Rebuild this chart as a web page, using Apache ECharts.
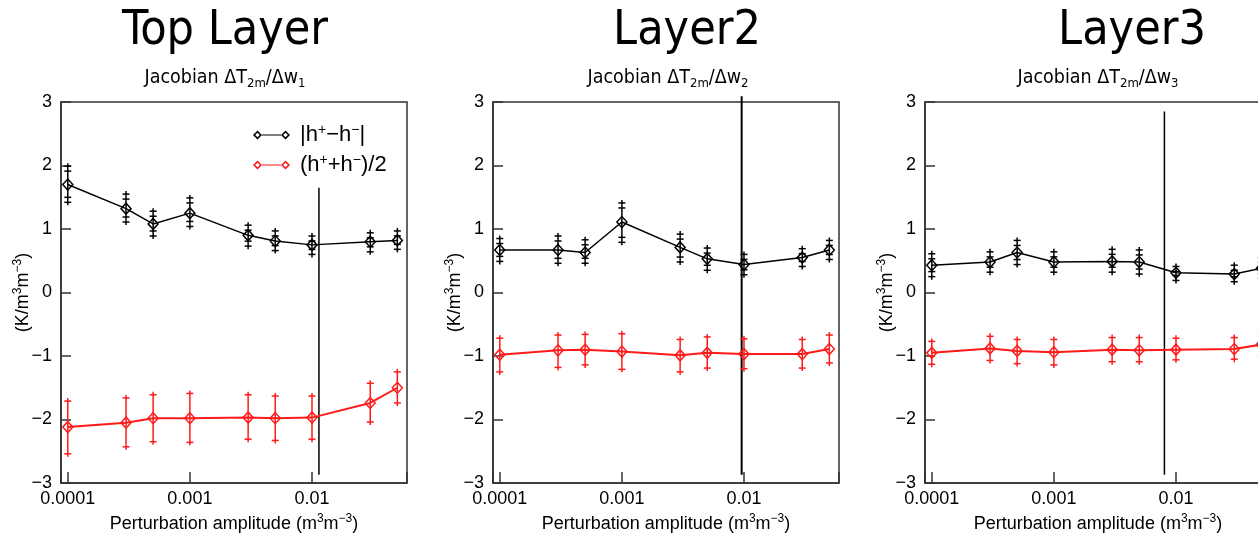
<!DOCTYPE html>
<html>
<head>
<meta charset="utf-8">
<script src="https://cdn.jsdelivr.net/npm/echarts@6/dist/echarts.min.js"></script>
<style>
  html, body { margin: 0; padding: 0; background: #fff; }
  #chart { width: 1258px; height: 535px; }
</style>
</head>
<body>
<div id="chart"></div>
<script>
// Perturbation amplitudes (m3 m-3), shared by all layers
const amplitudes = [0.0001, 0.0003, 0.0005, 0.001, 0.003, 0.005, 0.01, 0.03, 0.05];
const xTickLabels = { '-4': '0.0001', '-3': '0.001', '-2': '0.01' };
const panelTitles = ['Top Layer', 'Layer2', 'Layer3'];
const layerIndex = ['1', '2', '3'];

// |h+ - h-| with upper / lower error bounds
const diffL1   = [1.70, 1.32, 1.08, 1.25, 0.90, 0.81, 0.75, 0.80, 0.82];
const diffL1Hi = [1.99, 1.55, 1.28, 1.49, 1.06, 0.97, 0.89, 0.94, 0.97];
const diffL1Lo = [1.42, 1.11, 0.89, 1.04, 0.73, 0.66, 0.60, 0.64, 0.68];
const diffL2   = [0.67, 0.67, 0.63, 1.11, 0.71, 0.53, 0.44, 0.55, 0.67];
const diffL2Hi = [0.85, 0.89, 0.83, 1.41, 0.92, 0.70, 0.60, 0.69, 0.82];
const diffL2Lo = [0.49, 0.46, 0.46, 0.79, 0.48, 0.35, 0.28, 0.41, 0.52];
const diffL3   = [0.43, 0.48, 0.63, 0.48, 0.49, 0.48, 0.31, 0.29, 0.38];
const diffL3Hi = [0.61, 0.64, 0.82, 0.64, 0.68, 0.67, 0.41, 0.43, 0.55];
const diffL3Lo = [0.25, 0.32, 0.44, 0.32, 0.32, 0.29, 0.19, 0.17, 0.22];

// (h+ + h-)/2 with upper / lower error bounds
const meanL1   = [-2.12, -2.05, -1.98, -1.98, -1.97, -1.98, -1.97, -1.74, -1.50];
const meanL1Hi = [-1.71, -1.66, -1.61, -1.59, -1.61, -1.63, -1.63, -1.43, -1.25];
const meanL1Lo = [-2.54, -2.43, -2.35, -2.36, -2.31, -2.33, -2.31, -2.04, -1.74];
const meanL2   = [-0.98, -0.91, -0.90, -0.93, -0.99, -0.95, -0.97, -0.97, -0.89];
const meanL2Hi = [-0.72, -0.67, -0.66, -0.65, -0.74, -0.70, -0.73, -0.74, -0.67];
const meanL2Lo = [-1.25, -1.18, -1.14, -1.21, -1.25, -1.19, -1.20, -1.19, -1.11];
const meanL3   = [-0.95, -0.88, -0.92, -0.94, -0.90, -0.91, -0.90, -0.89, -0.82];
const meanL3Hi = [-0.77, -0.69, -0.74, -0.74, -0.71, -0.71, -0.72, -0.71, -0.64];
const meanL3Lo = [-1.13, -1.07, -1.12, -1.14, -1.09, -1.09, -1.06, -1.05, -1.00];

// Vertical reference line in each panel: x position and vertical extent
const refLineX      = [0.0114, 0.00957, 0.00804];
const refLineTop    = [1.65, 3.09, 2.85];
const refLineBottom = [-2.87, -2.87, -2.87];

const diffName = '|h+-h-|';
const meanName = '(h+ + h-)/2';

const FONT = "'Liberation Sans', Arial, sans-serif";
const NARROW = "'Liberation Sans Narrow', 'DejaVu Sans Condensed', 'Liberation Sans', sans-serif";
const AXIS_COLOR = '#333';

const diffSets = [[diffL1, diffL1Hi, diffL1Lo], [diffL2, diffL2Hi, diffL2Lo], [diffL3, diffL3Hi, diffL3Lo]];
const meanSets = [[meanL1, meanL1Hi, meanL1Lo], [meanL2, meanL2Hi, meanL2Lo], [meanL3, meanL3Hi, meanL3Lo]];

const panelLeft = [61, 493, 925];
const panelTitleX = [225, 687, 1132];
const panelSubX = [225, 668, 1098];

const supRich = {
  sup: { fontSize: 12, lineHeight: 12, verticalAlign: 'top', fontFamily: FONT, color: '#000' }
};

// Error bar with "+" shaped ends; doubleCap adds a second inner cap
function errorBarRenderer(color, doubleCap, width) {
  return function (params, api) {
    const x = api.value(0);
    const top = api.coord([x, api.value(2)]);
    const bot = api.coord([x, api.value(1)]);
    const ext = 3, half = 3.5, gap = 5;
    const style = { stroke: color, lineWidth: width };
    const children = [
      { type: 'line', shape: { x1: top[0], y1: top[1] - ext, x2: bot[0], y2: bot[1] + ext }, style },
      { type: 'line', shape: { x1: top[0] - half, y1: top[1], x2: top[0] + half, y2: top[1] }, style },
      { type: 'line', shape: { x1: bot[0] - half, y1: bot[1], x2: bot[0] + half, y2: bot[1] }, style }
    ];
    if (doubleCap) {
      children.push(
        { type: 'line', shape: { x1: top[0] - half, y1: top[1] + gap, x2: top[0] + half, y2: top[1] + gap }, style },
        { type: 'line', shape: { x1: bot[0] - half, y1: bot[1] - gap, x2: bot[0] + half, y2: bot[1] - gap }, style }
      );
    }
    return { type: 'group', children };
  };
}

const grids = [], xAxes = [], yAxes = [], series = [], graphics = [];

for (let p = 0; p < 3; p++) {
  grids.push({ left: panelLeft[p], top: 102, width: 346, height: 381, show: true,
    outerBoundsMode: 'none', containLabel: false,
    borderColor: AXIS_COLOR, borderWidth: 1.5, backgroundColor: 'transparent' });

  xAxes.push({
    type: 'log', gridIndex: p, min: 0.000088, max: 0.06, logBase: 10,
    axisLine: { onZero: false, lineStyle: { color: AXIS_COLOR, width: 1.5 } },
    axisTick: { inside: true, length: 11, lineStyle: { color: AXIS_COLOR, width: 1.5 } },
    splitLine: { show: false },
    minorTick: { show: false },
    axisLabel: {
      fontSize: 18, color: '#000', fontFamily: FONT, margin: 7,
      formatter: function (v) {
        const e = Math.log10(v);
        const r = Math.round(e);
        return Math.abs(e - r) < 1e-6 && xTickLabels[String(r)] ? xTickLabels[String(r)] : '';
      }
    },
    name: 'Perturbation amplitude (m{sup|3}m{sup|−3})',
    nameLocation: 'middle', nameGap: 30, nameMoveOverlap: false,
    nameTextStyle: { fontSize: 18, color: '#000', fontFamily: FONT, lineHeight: 22, rich: supRich }
  });

  yAxes.push({
    type: 'value', gridIndex: p, min: -3, max: 3, interval: 1,
    axisLine: { onZero: false, lineStyle: { color: AXIS_COLOR, width: 1.5 } },
    axisTick: { inside: true, length: 10, lineStyle: { color: AXIS_COLOR, width: 1.5 } },
    splitLine: { show: false },
    axisLabel: {
      fontSize: 18, color: '#000', fontFamily: FONT, margin: 9,
      formatter: v => (v < 0 ? '−' + Math.abs(v) : String(v))
    },
    name: '(K/m{sup|3}m{sup|−3})',
    nameLocation: 'middle', nameRotate: 90, nameGap: 27, nameMoveOverlap: false,
    nameTextStyle: { fontSize: 18, color: '#000', fontFamily: FONT, lineHeight: 22, rich: supRich }
  });

  // reference vertical line
  series.push({
    type: 'line', xAxisIndex: p, yAxisIndex: p, silent: true, clip: false,
    symbol: 'none', z: 1,
    lineStyle: { color: '#000', width: p === 1 ? 2 : 1.5 },
    data: [[refLineX[p], refLineTop[p]], [refLineX[p], refLineBottom[p]]]
  });

  const d = diffSets[p], m = meanSets[p];

  series.push({
    type: 'custom', xAxisIndex: p, yAxisIndex: p, silent: true, z: 3,
    renderItem: errorBarRenderer('#000', true, 1.5),
    encode: { x: 0, y: [1, 2] },
    data: amplitudes.map((x, i) => [x, d[2][i], d[1][i]])
  });
  series.push({
    type: 'custom', xAxisIndex: p, yAxisIndex: p, silent: true, z: 3,
    renderItem: errorBarRenderer('#ff1a1a', false, 1.5),
    encode: { x: 0, y: [1, 2] },
    data: amplitudes.map((x, i) => [x, m[2][i], m[1][i]])
  });

  series.push({
    name: diffName, type: 'line', xAxisIndex: p, yAxisIndex: p, z: 4,
    symbol: 'diamond', symbolSize: [10, 11], color: '#000',
    lineStyle: { color: '#000', width: 1.5 },
    itemStyle: { color: 'rgba(255,255,255,0)', borderColor: '#000', borderWidth: 1.5 },
    data: amplitudes.map((x, i) => [x, d[0][i]])
  });
  series.push({
    name: meanName, type: 'line', xAxisIndex: p, yAxisIndex: p, z: 4,
    symbol: 'diamond', symbolSize: [10, 11], color: '#ff1a1a',
    lineStyle: { color: '#ff1a1a', width: 2 },
    itemStyle: { color: 'rgba(255,255,255,0)', borderColor: '#ff1a1a', borderWidth: 1.5 },
    data: amplitudes.map((x, i) => [x, m[0][i]])
  });

  graphics.push({
    type: 'text', x: panelTitleX[p], y: 8,
    style: { text: panelTitles[p], fill: '#000', font: '48px ' + NARROW,
      align: 'center', textAlign: 'center', verticalAlign: 'top', textVerticalAlign: 'top' }
  });
  graphics.push({
    type: 'text', x: panelSubX[p], y: 65,
    style: {
      text: 'Jacobian ΔT{sub|2m}/Δw{sub|' + layerIndex[p] + '}',
      fill: '#000', fontSize: 19.5, fontFamily: NARROW, lineHeight: 25,
      align: 'center', textAlign: 'center', verticalAlign: 'top', textVerticalAlign: 'top',
      rich: { sub: { fontSize: 13, lineHeight: 13, verticalAlign: 'bottom', fontFamily: NARROW, fill: '#000' } }
    }
  });
}

// Legend icon: line segment with hollow diamonds at both ends,
// plus an empty point at x=42 that leaves room before the label
const legendIcon = 'path://M4.5 0L9 4.5L4.5 9L0 4.5Z M4.5 2.2L2.2 4.5L4.5 6.8L6.8 4.5Z ' +
  'M9 3.9L28 3.9L28 5.1L9 5.1Z ' +
  'M32.5 0L37 4.5L32.5 9L28 4.5Z M32.5 2.2L30.2 4.5L32.5 6.8L34.8 4.5Z ' +
  'M42 4.5L42 4.5Z';

const option = {
  animation: false,
  backgroundColor: '#fff',
  grid: grids,
  xAxis: xAxes,
  yAxis: yAxes,
  series: series,
  graphic: graphics,
  legend: {
    orient: 'vertical', left: 248, top: 118, itemWidth: 42, itemHeight: 9, itemGap: 6,
    icon: legendIcon, selectedMode: false,
    data: [
      { name: diffName, itemStyle: { color: '#000', borderWidth: 0 } },
      { name: meanName, itemStyle: { color: '#ff1a1a', borderWidth: 0 } }
    ],
    formatter: name => name === diffName ? '|h{sup|+}−h{sup|−}|' : '(h{sup|+}+h{sup|−})/2',
    textStyle: {
      fontSize: 22, color: '#000', fontFamily: FONT, lineHeight: 24,
      rich: { sup: { fontSize: 14, lineHeight: 14, verticalAlign: 'top', fontFamily: FONT, color: '#000' } }
    }
  }
};

const chart = echarts.init(document.getElementById('chart'), null, { renderer: 'canvas' });
chart.setOption(option);
</script>
</body>
</html>
